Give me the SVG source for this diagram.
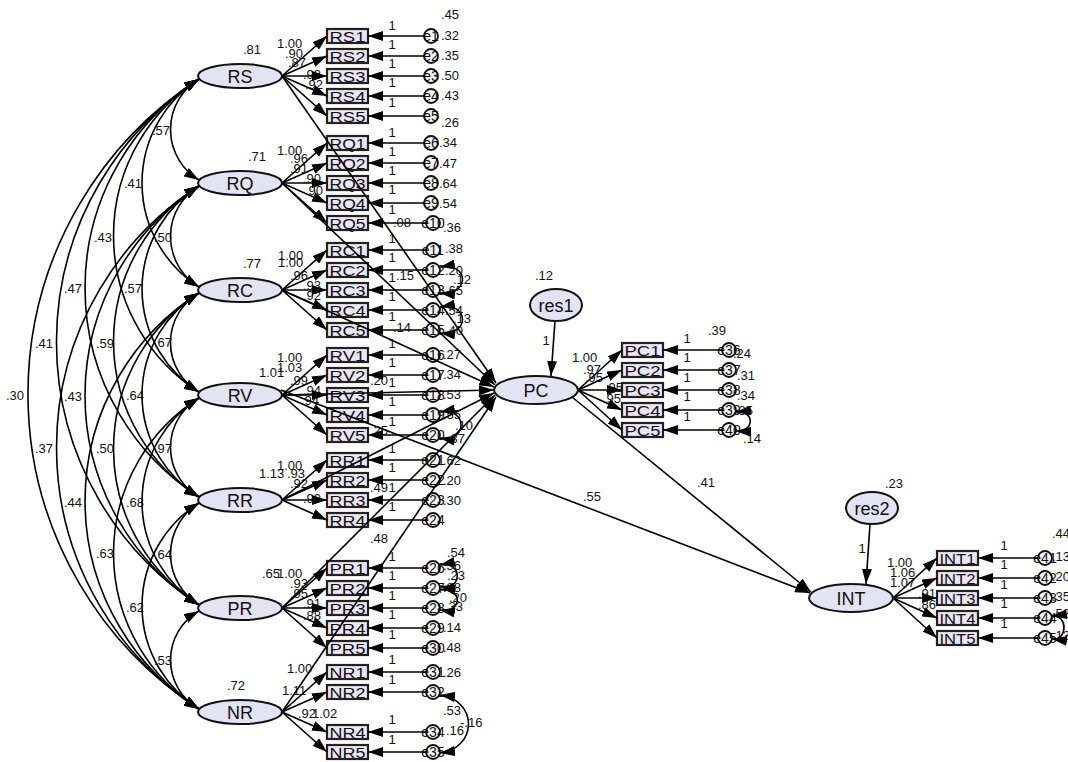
<svg xmlns="http://www.w3.org/2000/svg" width="1068" height="762" viewBox="0 0 1068 762">
<style>
text{font-family:"Liberation Sans",Arial,sans-serif;fill:#111}
.lat ellipse{fill:#e4e3f2;stroke:#111;stroke-width:2}
.lat text{font-size:18px;text-anchor:middle}
.box rect{fill:#ebe6f3;stroke:#222;stroke-width:2.2}
.box text{font-size:15px;text-anchor:middle}
.err circle{fill:#f6f6f6;stroke:#111;stroke-width:1.8}
.err text{font-size:14px;text-anchor:middle}
#conn path{stroke:#000;stroke-width:1.6;fill:none}
.a{marker-end:url(#ah)}
.d{marker-start:url(#ah);marker-end:url(#ah)}
.n text{font-size:13px}
.m text{text-anchor:middle}
</style>
<defs>
<marker id="ah" viewBox="0 0 15 10" refX="15" refY="5" markerWidth="15" markerHeight="10" markerUnits="userSpaceOnUse" orient="auto-start-reverse"><path d="M0,0 L15,5 L0,10 z" fill="#000"/></marker>
</defs>
<rect width="1068" height="762" fill="#fff"/>

<g id="nodes">
<g id="RS" class="lat"><ellipse cx="240" cy="76" rx="42" ry="12"/><text x="240" y="82.5">RS</text></g>
<g id="RQ" class="lat"><ellipse cx="240" cy="183" rx="42" ry="12"/><text x="240" y="189.5">RQ</text></g>
<g id="RC" class="lat"><ellipse cx="240" cy="290" rx="42" ry="12"/><text x="240" y="296.5">RC</text></g>
<g id="RV" class="lat"><ellipse cx="240" cy="395" rx="42" ry="12"/><text x="240" y="401.5">RV</text></g>
<g id="RR" class="lat"><ellipse cx="240" cy="500" rx="42" ry="12"/><text x="240" y="506.5">RR</text></g>
<g id="PR" class="lat"><ellipse cx="240" cy="608" rx="42" ry="12"/><text x="240" y="614.5">PR</text></g>
<g id="NR" class="lat"><ellipse cx="240" cy="712" rx="42" ry="12"/><text x="240" y="718.5">NR</text></g>
<g id="PC" class="lat"><ellipse cx="536" cy="390" rx="42" ry="14"/><text x="536" y="396.5">PC</text></g>
<g id="res1" class="lat"><ellipse cx="556" cy="305" rx="26" ry="16"/><text x="556" y="311.5">res1</text></g>
<g id="INT" class="lat"><ellipse cx="851" cy="598" rx="42" ry="14"/><text x="851" y="604.5">INT</text></g>
<g id="res2" class="lat"><ellipse cx="872" cy="508" rx="26" ry="16"/><text x="872" y="514.5">res2</text></g>

<g id="RS1" class="box"><rect x="327" y="29" width="41" height="14"/><text x="347.5" y="41.5" textLength="36" lengthAdjust="spacingAndGlyphs">RS1</text></g>
<g id="RS2" class="box"><rect x="327" y="49" width="41" height="14"/><text x="347.5" y="61.5" textLength="36" lengthAdjust="spacingAndGlyphs">RS2</text></g>
<g id="RS3" class="box"><rect x="327" y="69" width="41" height="14"/><text x="347.5" y="81.5" textLength="36" lengthAdjust="spacingAndGlyphs">RS3</text></g>
<g id="RS4" class="box"><rect x="327" y="89" width="41" height="14"/><text x="347.5" y="101.5" textLength="36" lengthAdjust="spacingAndGlyphs">RS4</text></g>
<g id="RS5" class="box"><rect x="327" y="109" width="41" height="14"/><text x="347.5" y="121.5" textLength="36" lengthAdjust="spacingAndGlyphs">RS5</text></g>
<g id="RQ1" class="box"><rect x="327" y="136" width="41" height="14"/><text x="347.5" y="148.5" textLength="36" lengthAdjust="spacingAndGlyphs">RQ1</text></g>
<g id="RQ2" class="box"><rect x="327" y="156" width="41" height="14"/><text x="347.5" y="168.5" textLength="36" lengthAdjust="spacingAndGlyphs">RQ2</text></g>
<g id="RQ3" class="box"><rect x="327" y="176" width="41" height="14"/><text x="347.5" y="188.5" textLength="36" lengthAdjust="spacingAndGlyphs">RQ3</text></g>
<g id="RQ4" class="box"><rect x="327" y="196" width="41" height="14"/><text x="347.5" y="208.5" textLength="36" lengthAdjust="spacingAndGlyphs">RQ4</text></g>
<g id="RQ5" class="box"><rect x="327" y="216" width="41" height="14"/><text x="347.5" y="228.5" textLength="36" lengthAdjust="spacingAndGlyphs">RQ5</text></g>
<g id="RC1" class="box"><rect x="327" y="243" width="41" height="14"/><text x="347.5" y="255.5" textLength="36" lengthAdjust="spacingAndGlyphs">RC1</text></g>
<g id="RC2" class="box"><rect x="327" y="263" width="41" height="14"/><text x="347.5" y="275.5" textLength="36" lengthAdjust="spacingAndGlyphs">RC2</text></g>
<g id="RC3" class="box"><rect x="327" y="283" width="41" height="14"/><text x="347.5" y="295.5" textLength="36" lengthAdjust="spacingAndGlyphs">RC3</text></g>
<g id="RC4" class="box"><rect x="327" y="303" width="41" height="14"/><text x="347.5" y="315.5" textLength="36" lengthAdjust="spacingAndGlyphs">RC4</text></g>
<g id="RC5" class="box"><rect x="327" y="323" width="41" height="14"/><text x="347.5" y="335.5" textLength="36" lengthAdjust="spacingAndGlyphs">RC5</text></g>
<g id="RV1" class="box"><rect x="327" y="348" width="41" height="14"/><text x="347.5" y="360.5" textLength="36" lengthAdjust="spacingAndGlyphs">RV1</text></g>
<g id="RV2" class="box"><rect x="327" y="368" width="41" height="14"/><text x="347.5" y="380.5" textLength="36" lengthAdjust="spacingAndGlyphs">RV2</text></g>
<g id="RV3" class="box"><rect x="327" y="388" width="41" height="14"/><text x="347.5" y="400.5" textLength="36" lengthAdjust="spacingAndGlyphs">RV3</text></g>
<g id="RV4" class="box"><rect x="327" y="408" width="41" height="14"/><text x="347.5" y="420.5" textLength="36" lengthAdjust="spacingAndGlyphs">RV4</text></g>
<g id="RV5" class="box"><rect x="327" y="428" width="41" height="14"/><text x="347.5" y="440.5" textLength="36" lengthAdjust="spacingAndGlyphs">RV5</text></g>
<g id="RR1" class="box"><rect x="327" y="453" width="41" height="14"/><text x="347.5" y="465.5" textLength="36" lengthAdjust="spacingAndGlyphs">RR1</text></g>
<g id="RR2" class="box"><rect x="327" y="473" width="41" height="14"/><text x="347.5" y="485.5" textLength="36" lengthAdjust="spacingAndGlyphs">RR2</text></g>
<g id="RR3" class="box"><rect x="327" y="493" width="41" height="14"/><text x="347.5" y="505.5" textLength="36" lengthAdjust="spacingAndGlyphs">RR3</text></g>
<g id="RR4" class="box"><rect x="327" y="513" width="41" height="14"/><text x="347.5" y="525.5" textLength="36" lengthAdjust="spacingAndGlyphs">RR4</text></g>
<g id="PR1" class="box"><rect x="327" y="561" width="41" height="14"/><text x="347.5" y="573.5" textLength="36" lengthAdjust="spacingAndGlyphs">PR1</text></g>
<g id="PR2" class="box"><rect x="327" y="581" width="41" height="14"/><text x="347.5" y="593.5" textLength="36" lengthAdjust="spacingAndGlyphs">PR2</text></g>
<g id="PR3" class="box"><rect x="327" y="601" width="41" height="14"/><text x="347.5" y="613.5" textLength="36" lengthAdjust="spacingAndGlyphs">PR3</text></g>
<g id="PR4" class="box"><rect x="327" y="621" width="41" height="14"/><text x="347.5" y="633.5" textLength="36" lengthAdjust="spacingAndGlyphs">PR4</text></g>
<g id="PR5" class="box"><rect x="327" y="641" width="41" height="14"/><text x="347.5" y="653.5" textLength="36" lengthAdjust="spacingAndGlyphs">PR5</text></g>
<g id="NR1" class="box"><rect x="327" y="665" width="41" height="14"/><text x="347.5" y="677.5" textLength="36" lengthAdjust="spacingAndGlyphs">NR1</text></g>
<g id="NR2" class="box"><rect x="327" y="685" width="41" height="14"/><text x="347.5" y="697.5" textLength="36" lengthAdjust="spacingAndGlyphs">NR2</text></g>
<g id="NR4" class="box"><rect x="327" y="725" width="41" height="14"/><text x="347.5" y="737.5" textLength="36" lengthAdjust="spacingAndGlyphs">NR4</text></g>
<g id="NR5" class="box"><rect x="327" y="745" width="41" height="14"/><text x="347.5" y="757.5" textLength="36" lengthAdjust="spacingAndGlyphs">NR5</text></g>
<g id="PC1" class="box"><rect x="622" y="343" width="41" height="14"/><text x="642.5" y="355.5" textLength="36" lengthAdjust="spacingAndGlyphs">PC1</text></g>
<g id="PC2" class="box"><rect x="622" y="363" width="41" height="14"/><text x="642.5" y="375.5" textLength="36" lengthAdjust="spacingAndGlyphs">PC2</text></g>
<g id="PC3" class="box"><rect x="622" y="383" width="41" height="14"/><text x="642.5" y="395.5" textLength="36" lengthAdjust="spacingAndGlyphs">PC3</text></g>
<g id="PC4" class="box"><rect x="622" y="403" width="41" height="14"/><text x="642.5" y="415.5" textLength="36" lengthAdjust="spacingAndGlyphs">PC4</text></g>
<g id="PC5" class="box"><rect x="622" y="423" width="41" height="14"/><text x="642.5" y="435.5" textLength="36" lengthAdjust="spacingAndGlyphs">PC5</text></g>
<g id="INT1" class="box"><rect x="937" y="551" width="41" height="14"/><text x="957.5" y="563.5" textLength="36" lengthAdjust="spacingAndGlyphs">INT1</text></g>
<g id="INT2" class="box"><rect x="937" y="571" width="41" height="14"/><text x="957.5" y="583.5" textLength="36" lengthAdjust="spacingAndGlyphs">INT2</text></g>
<g id="INT3" class="box"><rect x="937" y="591" width="41" height="14"/><text x="957.5" y="603.5" textLength="36" lengthAdjust="spacingAndGlyphs">INT3</text></g>
<g id="INT4" class="box"><rect x="937" y="611" width="41" height="14"/><text x="957.5" y="623.5" textLength="36" lengthAdjust="spacingAndGlyphs">INT4</text></g>
<g id="INT5" class="box"><rect x="937" y="631" width="41" height="14"/><text x="957.5" y="643.5" textLength="36" lengthAdjust="spacingAndGlyphs">INT5</text></g>

<g id="e1" class="err"><circle cx="431" cy="36" r="7"/><text x="431" y="41">e1</text></g>
<g id="e2" class="err"><circle cx="431" cy="56" r="7"/><text x="431" y="61">e2</text></g>
<g id="e3" class="err"><circle cx="431" cy="76" r="7"/><text x="431" y="81">e3</text></g>
<g id="e4" class="err"><circle cx="431" cy="96" r="7"/><text x="431" y="101">e4</text></g>
<g id="e5" class="err"><circle cx="431" cy="116" r="7"/><text x="431" y="121">e5</text></g>
<g id="e6" class="err"><circle cx="431" cy="143" r="7"/><text x="431" y="148">e6</text></g>
<g id="e7" class="err"><circle cx="431" cy="163" r="7"/><text x="431" y="168">e7</text></g>
<g id="e8" class="err"><circle cx="431" cy="183" r="7"/><text x="431" y="188">e8</text></g>
<g id="e9" class="err"><circle cx="431" cy="203" r="7"/><text x="431" y="208">e9</text></g>
<g id="e10" class="err"><circle cx="433" cy="223" r="7"/><text x="433" y="228">e10</text></g>
<g id="e11" class="err"><circle cx="433" cy="250" r="7"/><text x="433" y="255">e11</text></g>
<g id="e12" class="err"><circle cx="433" cy="270" r="7"/><text x="433" y="275">e12</text></g>
<g id="e13" class="err"><circle cx="433" cy="290" r="7"/><text x="433" y="295">e13</text></g>
<g id="e14" class="err"><circle cx="433" cy="310" r="7"/><text x="433" y="315">e14</text></g>
<g id="e15" class="err"><circle cx="433" cy="330" r="7"/><text x="433" y="335">e15</text></g>
<g id="e16" class="err"><circle cx="433" cy="355" r="7"/><text x="433" y="360">e16</text></g>
<g id="e17" class="err"><circle cx="433" cy="375" r="7"/><text x="433" y="380">e17</text></g>
<g id="e18" class="err"><circle cx="433" cy="395" r="7"/><text x="433" y="400">e18</text></g>
<g id="e19" class="err"><circle cx="433" cy="415" r="7"/><text x="433" y="420">e19</text></g>
<g id="e20" class="err"><circle cx="433" cy="435" r="7"/><text x="433" y="440">e20</text></g>
<g id="e21" class="err"><circle cx="433" cy="460" r="7"/><text x="433" y="465">e21</text></g>
<g id="e22" class="err"><circle cx="433" cy="480" r="7"/><text x="433" y="485">e22</text></g>
<g id="e23" class="err"><circle cx="433" cy="500" r="7"/><text x="433" y="505">e23</text></g>
<g id="e24" class="err"><circle cx="433" cy="520" r="7"/><text x="433" y="525">e24</text></g>
<g id="e26" class="err"><circle cx="433" cy="568" r="7"/><text x="433" y="573">e26</text></g>
<g id="e27" class="err"><circle cx="433" cy="588" r="7"/><text x="433" y="593">e27</text></g>
<g id="e28" class="err"><circle cx="433" cy="608" r="7"/><text x="433" y="613">e28</text></g>
<g id="e29" class="err"><circle cx="433" cy="628" r="7"/><text x="433" y="633">e29</text></g>
<g id="e30" class="err"><circle cx="433" cy="648" r="7"/><text x="433" y="653">e30</text></g>
<g id="e31" class="err"><circle cx="433" cy="672" r="7"/><text x="433" y="677">e31</text></g>
<g id="e32" class="err"><circle cx="433" cy="692" r="7"/><text x="433" y="697">e32</text></g>
<g id="e34" class="err"><circle cx="433" cy="732" r="7"/><text x="433" y="737">e34</text></g>
<g id="e35" class="err"><circle cx="433" cy="752" r="7"/><text x="433" y="757">e35</text></g>
<g id="e36" class="err"><circle cx="729" cy="350" r="7"/><text x="729" y="355">e36</text></g>
<g id="e37" class="err"><circle cx="729" cy="370" r="7"/><text x="729" y="375">e37</text></g>
<g id="e38" class="err"><circle cx="729" cy="390" r="7"/><text x="729" y="395">e38</text></g>
<g id="e39" class="err"><circle cx="729" cy="410" r="7"/><text x="729" y="415">e39</text></g>
<g id="e40" class="err"><circle cx="729" cy="430" r="7"/><text x="729" y="435">e40</text></g>
<g id="e41" class="err"><circle cx="1045" cy="558" r="7"/><text x="1045" y="563">e41</text></g>
<g id="e42" class="err"><circle cx="1045" cy="578" r="7"/><text x="1045" y="583">e42</text></g>
<g id="e43" class="err"><circle cx="1045" cy="598" r="7"/><text x="1045" y="603">e43</text></g>
<g id="e44" class="err"><circle cx="1045" cy="618" r="7"/><text x="1045" y="623">e44</text></g>
<g id="e45" class="err"><circle cx="1045" cy="638" r="7"/><text x="1045" y="643">e45</text></g>
</g>

<g id="conn">
<path class="d" d="M199,79 A59,59 0 0 0 199,180"/>
<path class="d" d="M199,186 A59,59 0 0 0 199,287"/>
<path class="d" d="M199,293 A57.2,57.2 0 0 0 199,392"/>
<path class="d" d="M199,398 A57.2,57.2 0 0 0 199,497"/>
<path class="d" d="M199,503 A59.9,59.9 0 0 0 199,605"/>
<path class="d" d="M199,611 A56.4,56.4 0 0 0 199,709"/>
<path class="d" d="M199,79 A123.4,123.4 0 0 0 199,287"/>
<path class="d" d="M199,186 A121.6,121.6 0 0 0 199,392"/>
<path class="d" d="M199,293 A119.8,119.8 0 0 0 199,497"/>
<path class="d" d="M199,398 A122.5,122.5 0 0 0 199,605"/>
<path class="d" d="M199,503 A121.6,121.6 0 0 0 199,709"/>
<path class="d" d="M199,79 A186,186 0 0 0 199,392"/>
<path class="d" d="M199,186 A184.2,184.2 0 0 0 199,497"/>
<path class="d" d="M199,293 A185.1,185.1 0 0 0 199,605"/>
<path class="d" d="M199,398 A184.2,184.2 0 0 0 199,709"/>
<path class="d" d="M199,79 A248.6,248.6 0 0 0 199,497"/>
<path class="d" d="M199,186 A249.5,249.5 0 0 0 199,605"/>
<path class="d" d="M199,293 A246.8,246.8 0 0 0 199,709"/>
<path class="d" d="M199,79 A313.9,313.9 0 0 0 199,605"/>
<path class="d" d="M199,186 A311.2,311.2 0 0 0 199,709"/>
<path class="d" d="M199,79 A375.6,375.6 0 0 0 199,709"/>
<path class="a" d="M282,76 L327,36"/><path class="a" d="M282,76 L327,56"/><path class="a" d="M282,76 L327,76"/><path class="a" d="M282,76 L327,96"/><path class="a" d="M282,76 L327,116"/>
<path class="a" d="M282,183 L327,143"/><path class="a" d="M282,183 L327,163"/><path class="a" d="M282,183 L327,183"/><path class="a" d="M282,183 L327,203"/><path class="a" d="M282,183 L327,223"/>
<path class="a" d="M282,290 L327,250"/><path class="a" d="M282,290 L327,270"/><path class="a" d="M282,290 L327,290"/><path class="a" d="M282,290 L327,310"/><path class="a" d="M282,290 L327,330"/>
<path class="a" d="M282,395 L327,355"/><path class="a" d="M282,395 L327,375"/><path class="a" d="M282,395 L327,395"/><path class="a" d="M282,395 L327,415"/><path class="a" d="M282,395 L327,435"/>
<path class="a" d="M282,500 L327,460"/><path class="a" d="M282,500 L327,480"/><path class="a" d="M282,500 L327,500"/><path class="a" d="M282,500 L327,520"/>
<path class="a" d="M282,608 L327,568"/><path class="a" d="M282,608 L327,588"/><path class="a" d="M282,608 L327,608"/><path class="a" d="M282,608 L327,628"/><path class="a" d="M282,608 L327,648"/>
<path class="a" d="M282,712 L327,672"/><path class="a" d="M282,712 L327,692"/><path class="a" d="M282,712 L327,732"/><path class="a" d="M282,712 L327,752"/>
<path class="a" d="M578,390 L622,350"/><path class="a" d="M578,390 L622,370"/><path class="a" d="M578,390 L622,390"/><path class="a" d="M578,390 L622,410"/><path class="a" d="M578,390 L622,430"/>
<path class="a" d="M893,598 L937,558"/><path class="a" d="M893,598 L937,578"/><path class="a" d="M893,598 L937,598"/><path class="a" d="M893,598 L937,618"/><path class="a" d="M893,598 L937,638"/>
<path class="a" d="M424,36 H368"/><path class="a" d="M424,56 H368"/><path class="a" d="M424,76 H368"/><path class="a" d="M424,96 H368"/><path class="a" d="M424,116 H368"/>
<path class="a" d="M424,143 H368"/><path class="a" d="M424,163 H368"/><path class="a" d="M424,183 H368"/><path class="a" d="M424,203 H368"/><path class="a" d="M426,223 H368"/>
<path class="a" d="M426,250 H368"/><path class="a" d="M426,270 H368"/><path class="a" d="M426,290 H368"/><path class="a" d="M426,310 H368"/><path class="a" d="M426,330 H368"/>
<path class="a" d="M426,355 H368"/><path class="a" d="M426,375 H368"/><path class="a" d="M426,395 H368"/><path class="a" d="M426,415 H368"/><path class="a" d="M426,435 H368"/>
<path class="a" d="M426,460 H368"/><path class="a" d="M426,480 H368"/><path class="a" d="M426,500 H368"/><path class="a" d="M426,520 H368"/>
<path class="a" d="M426,568 H368"/><path class="a" d="M426,588 H368"/><path class="a" d="M426,608 H368"/><path class="a" d="M426,628 H368"/><path class="a" d="M426,648 H368"/>
<path class="a" d="M426,672 H368"/><path class="a" d="M426,692 H368"/><path class="a" d="M426,732 H368"/><path class="a" d="M426,752 H368"/>
<path class="a" d="M722,350 H663"/><path class="a" d="M722,370 H663"/><path class="a" d="M722,390 H663"/><path class="a" d="M722,410 H663"/><path class="a" d="M722,430 H663"/>
<path class="a" d="M1038,558 H978"/><path class="a" d="M1038,578 H978"/><path class="a" d="M1038,598 H978"/><path class="a" d="M1038,618 H978"/><path class="a" d="M1038,638 H978"/>
<path class="d" d="M440,267 C470,262 470,296 440,293"/>
<path class="d" d="M440,307 C470,302 470,336 440,333"/>
<path class="d" d="M440,412 C468,407 468,443 440,438"/>
<path class="d" d="M440,565 C463,560 463,592 440,586"/>
<path class="d" d="M440,590 C463,586 463,614 440,610"/>
<path class="d" d="M440,695 C478,700 478,748 440,753"/>
<path class="d" d="M736,412 C755,410 755,432 736,431"/>
<path class="d" d="M1052,616 C1068,614 1068,641 1052,639"/>
<path class="a" d="M282,76 L496,383"/>
<path class="a" d="M282,183 L495,385"/>
<path class="a" d="M282,290 L494,387"/>
<path class="a" d="M282,395 L494,390"/>
<path class="a" d="M282,500 L494,393"/>
<path class="a" d="M282,608 L495,395"/>
<path class="a" d="M282,712 L496,397"/>
<path class="a" d="M281,390 L810,593"/>
<path class="a" d="M572,397 L811,592"/>
<path class="a" d="M555,321 L551,376"/>
<path class="a" d="M870,524 L866,584"/>
</g>

<g id="labels" class="n">
<g class="m">
<text x="392" y="30">1</text><text x="392" y="49">1</text><text x="392" y="68">1</text><text x="392" y="87">1</text><text x="392" y="107">1</text>
<text x="392" y="137">1</text><text x="392" y="156">1</text><text x="392" y="175">1</text><text x="392" y="194">1</text><text x="392" y="214">1</text>
<text x="392" y="243">1</text><text x="392" y="262">1</text><text x="392" y="282">1</text><text x="392" y="301">1</text><text x="392" y="321">1</text>
<text x="392" y="348">1</text><text x="392" y="367">1</text><text x="392" y="387">1</text><text x="392" y="406">1</text><text x="392" y="426">1</text>
<text x="392" y="453">1</text><text x="392" y="472">1</text><text x="392" y="492">1</text><text x="392" y="511">1</text>
<text x="392" y="561">1</text><text x="392" y="580">1</text><text x="392" y="600">1</text><text x="392" y="619">1</text><text x="392" y="639">1</text>
<text x="392" y="664">1</text><text x="392" y="684">1</text><text x="392" y="724">1</text><text x="392" y="744">1</text>
<text x="687" y="343">1</text><text x="687" y="362">1</text><text x="687" y="382">1</text><text x="687" y="401">1</text><text x="687" y="421">1</text>
<text x="1004" y="550">1</text><text x="1004" y="569">1</text><text x="1004" y="589">1</text><text x="1004" y="608">1</text><text x="1004" y="628">1</text>
<text x="546" y="345">1</text><text x="862" y="553">1</text>
</g>
<text x="152" y="135">.57</text><text x="154" y="242">.50</text><text x="154" y="347">.67</text><text x="154" y="453">.97</text><text x="154" y="559">.64</text><text x="154" y="665">.53</text>
<text x="124" y="188">.41</text><text x="124" y="293">.57</text><text x="126" y="400">.64</text><text x="126" y="507">.68</text><text x="126" y="612">.62</text>
<text x="94" y="242">.43</text><text x="96" y="348">.59</text><text x="96" y="453">.50</text><text x="96" y="558">.63</text>
<text x="64" y="293">.47</text><text x="64" y="401">.43</text><text x="64" y="507">.44</text>
<text x="35" y="348">.41</text><text x="35" y="453">.37</text>
<text x="6" y="400">.30</text>
<text x="243" y="54">.81</text><text x="248" y="161">.71</text><text x="243" y="268">.77</text><text x="259" y="377">1.01</text><text x="259" y="478">1.13</text><text x="262" y="578">.65</text><text x="227" y="690">.72</text>
<text x="277" y="48">1.00</text><text x="285" y="58">.90</text><text x="288" y="67">.87</text><text x="303" y="79">.93</text><text x="305" y="89">.92</text>
<text x="277" y="155">1.00</text><text x="290" y="163">.96</text><text x="290" y="173">.91</text><text x="303" y="183">.90</text><text x="305" y="195">.90</text>
<text x="278" y="260">1.00</text><text x="278" y="267">1.00</text><text x="290" y="280">.96</text><text x="303" y="290">.93</text><text x="303" y="300">.92</text>
<text x="277" y="362">1.00</text><text x="277" y="372">1.03</text><text x="290" y="385">.99</text><text x="303" y="395">.94</text><text x="301" y="405">.94</text>
<text x="277" y="470">1.00</text><text x="287" y="478">.93</text><text x="290" y="488">.92</text><text x="303" y="503">.90</text>
<text x="277" y="578">1.00</text><text x="290" y="588">.93</text><text x="290" y="598">.95</text><text x="303" y="608">.91</text><text x="303" y="620">.88</text>
<text x="287" y="673">1.00</text><text x="282" y="695">1.11</text><text x="298" y="718">.92</text><text x="312" y="718">1.02</text>
<text x="572" y="362">1.00</text><text x="583" y="374">.97</text><text x="585" y="382">.95</text><text x="605" y="392">.95</text><text x="603" y="403">.95</text>
<text x="887" y="567">1.00</text><text x="890" y="577">1.06</text><text x="890" y="587">1.07</text><text x="918" y="598">.91</text><text x="918" y="609">.86</text>
<text x="393" y="227">.08</text><text x="396" y="280">.15</text><text x="393" y="332">.14</text><text x="370" y="385">.20</text><text x="370" y="435">.25</text><text x="370" y="492">.49</text><text x="370" y="543">.48</text>
<text x="583" y="501">.55</text><text x="697" y="487">.41</text>
<text x="441" y="19">.45</text><text x="441" y="40">.32</text><text x="441" y="60">.35</text><text x="441" y="80">.50</text><text x="441" y="100">.43</text><text x="441" y="127">.26</text>
<text x="439" y="147">.34</text><text x="439" y="168">.47</text><text x="439" y="188">.64</text><text x="439" y="208">.54</text><text x="443" y="232">.36</text>
<text x="445" y="253">.38</text><text x="445" y="275">.20</text><text x="445" y="295">.65</text><text x="445" y="315">.54</text><text x="445" y="335">.40</text><text x="453" y="284">.12</text><text x="453" y="323">.13</text>
<text x="443" y="359">.27</text><text x="443" y="379">.34</text><text x="443" y="399">.53</text><text x="443" y="419">.55</text><text x="455" y="430">.10</text><text x="447" y="443">.37</text>
<text x="443" y="465">.62</text><text x="443" y="485">.20</text><text x="443" y="505">.30</text>
<text x="447" y="557">.54</text><text x="443" y="570">.56</text><text x="447" y="580">.23</text><text x="443" y="592">.88</text><text x="449" y="602">.20</text><text x="445" y="611">.33</text><text x="443" y="632">.14</text><text x="443" y="652">.48</text>
<text x="443" y="677">.26</text><text x="443" y="715">.53</text><text x="446" y="735">.16</text><text x="460" y="727">-.16</text>
<text x="535" y="280">.12</text><text x="708" y="335">.39</text><text x="733" y="358">.24</text><text x="737" y="380">.31</text><text x="737" y="400">.34</text><text x="735" y="415">.35</text><text x="743" y="443">.14</text>
<text x="885" y="488">.23</text><text x="1052" y="538">.44</text><text x="1052" y="561">.13</text><text x="1052" y="581">.20</text><text x="1052" y="601">.35</text><text x="1052" y="618">.52</text><text x="1052" y="640">.13</text>
</g>
</svg>
